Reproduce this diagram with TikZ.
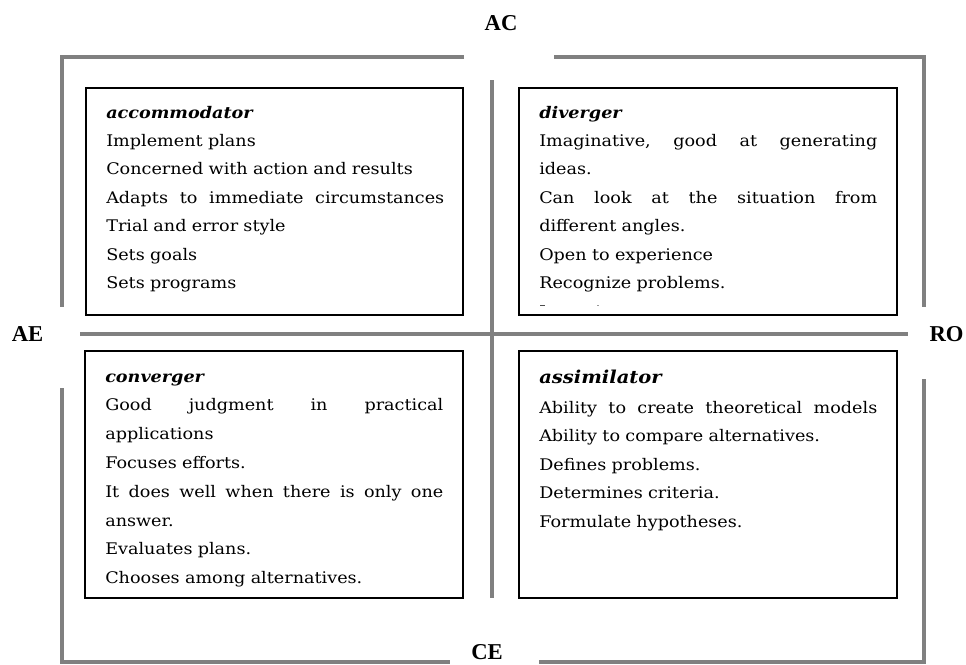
\documentclass[tikz,border=0pt]{standalone}
\usepackage{fontspec}
\setmainfont{DejaVu Serif}[FakeStretch=1.1]
\newfontfamily\labfont{Liberation Serif}
\definecolor{framegray}{RGB}{128,128,128}
\newcommand\jline[1]{\leavevmode\hbox to 253.5pt{#1}}
\begin{document}
\begin{tikzpicture}[x=0.75pt,y=-0.75pt,
  frame/.style={draw=framegray,line width=3pt,line join=miter},
  quad/.style={draw=black,line width=0.9pt,rectangle,inner sep=0pt},
  body/.style={anchor=base west,inner sep=0pt,text width=253.5pt,align=left,
    font=\fontsize{12}{21.3}\selectfont},
  axislab/.style={font=\labfont\bfseries\fontsize{17}{20}\selectfont,inner sep=0pt}]
\useasboundingbox (0,0) rectangle (966,664);
% frame
\draw[frame] (464,57) -- (62,57) -- (62,307);
\draw[frame] (554,57) -- (924,57) -- (924,307);
\draw[frame] (492,80) -- (492,598);
\draw[frame] (80,334) -- (908,334);
\draw[frame] (62,388) -- (62,662) -- (450,662);
\draw[frame] (539,662) -- (924,662) -- (924,379);
% boxes
\node[quad,minimum width=282.75pt,minimum height=170.25pt] (tl) at (274.5,201.5) {};
\node[quad,minimum width=283.5pt,minimum height=170.25pt] (tr) at (708,201.5) {};
\node[quad,minimum width=283.5pt,minimum height=185.25pt] (bl) at (274,474.5) {};
\node[quad,minimum width=283.5pt,minimum height=185.25pt] (br) at (708,474.5) {};
% texts
\node[body] (tltext) at (106,118) {{\bfseries\itshape accommodator}\\
Implement plans\\
Concerned with action and results\\
\jline{Adapts\hfill to\hfill immediate\hfill circumstances}\\
Trial and error style\\
Sets goals\\
Sets programs};
\node[body] (trtext) at (539,118) {{\bfseries\itshape diverger}\\
\jline{Imaginative,\hfill good\hfill at\hfill generating}\\
ideas.\\
\jline{Can\hfill look\hfill at\hfill the\hfill situation\hfill from}\\
different angles.\\
Open to experience\\
Recognize problems.};
\node[body,font=\fontsize{12}{21.6}\selectfont] (bltext) at (105,382) {{\bfseries\itshape converger}\\
\jline{Good\hfill judgment\hfill in\hfill practical}\\
applications\\
Focuses efforts.\\
\jline{It\hfill does\hfill well\hfill when\hfill there\hfill is\hfill only\hfill one}\\
answer.\\
Evaluates plans.\\
Chooses among alternatives.};
\node[body] (brtext) at (539,383) {{\bfseries\itshape\fontsize{13.3}{21}\selectfont assimilator}\\[1.5pt]
\jline{Ability\hfill to\hfill create\hfill theoretical\hfill models}\\
Ability to compare alternatives.\\
Defines problems.\\
Determines criteria.\\
Formulate hypotheses.};
% clipped marks
\draw[black!70,line width=0.6pt] (540,305) -- (545,305);
\draw[black!40,line width=0.6pt] (597,305) -- (599,305);
% axis labels
\node[axislab] (ac) at (501,23.5) {AC};
\node[axislab] (ae) at (27.5,334.5) {AE};
\node[axislab] (ro) at (946.5,334) {RO};
\node[axislab] (ce) at (487,652.5) {CE};
\end{tikzpicture}
\end{document}
